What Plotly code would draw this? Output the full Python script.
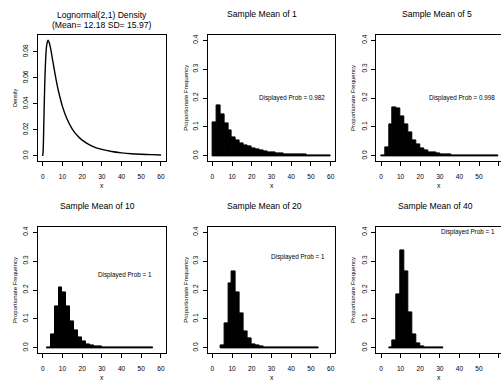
import plotly.graph_objects as go

W, H = 501, 384

# ---------------- data ----------------
density_x = [0, 0.25, 0.5, 1, 1.5, 2, 2.7, 3.5, 4, 5, 6, 7, 8, 10, 12, 15, 18, 20, 25, 30, 35, 40, 45, 50, 55, 60]
density_y = [0, 0.0052, 0.021, 0.054, 0.0745, 0.085, 0.089, 0.086, 0.0826, 0.0739, 0.0651, 0.0569, 0.0497,
             0.0381, 0.0296, 0.0207, 0.0149, 0.0122, 0.0076, 0.0050, 0.0034, 0.0024, 0.0017, 0.0013, 0.0010, 0.0007]

bin_width = 2
bin_centers = [1 + 2 * i for i in range(30)]  # bins 0-2, 2-4, ..., 58-60

mean1 = [0.116, 0.173, 0.143, 0.113, 0.088, 0.064, 0.055, 0.045, 0.038, 0.032, 0.027, 0.023, 0.019, 0.015, 0.013,
         0.011, 0.009, 0.008, 0.007, 0.006, 0.005, 0.005, 0.004, 0.004, 0.003, 0.003, 0.003, 0.002, 0.002, 0.002]
mean5 = [0.001, 0.029, 0.109, 0.168, 0.164, 0.137, 0.110, 0.080, 0.055, 0.039, 0.026, 0.018, 0.014, 0.011, 0.008,
         0.006, 0.005, 0.004, 0.003, 0.003, 0.002, 0.002, 0.002, 0.001, 0.001, 0.001, 0.001, 0.001, 0.001, 0.001]
mean10 = [None, 0.003, 0.048, 0.145, 0.210, 0.193, 0.145, 0.093, 0.062, 0.038, 0.022, 0.014, 0.009, 0.006, 0.004,
          0.003, 0.002, 0.002, 0.001, 0.001, 0.001, 0.001, 0.001, 0.001, 0.001, 0.001, 0.001, 0.001, None, None]
mean20 = [None, None, 0.008, 0.085, 0.222, 0.264, 0.193, 0.118, 0.058, 0.032, 0.014, 0.008, 0.005, 0.003, 0.002,
          0.001, 0.001, 0.001, 0.001, 0.001, 0.001, 0.001, 0.001, 0.001, 0.001, 0.001, 0.001, None, None, None]
mean40 = [None, None, 0.003, 0.026, 0.185, 0.335, 0.263, 0.124, 0.047, 0.015, 0.005, 0.002, 0.001, 0.001, 0.001,
          0.001, None, None, None, None, None, None, None, None, None, None, None, None, None, None]

hist_titles = ["Sample Mean of 1", "Sample Mean of 5", "Sample Mean of 10", "Sample Mean of 20", "Sample Mean of 40"]
hist_series = [mean1, mean5, mean10, mean20, mean40]
prob_labels = ["Displayed Prob = 0.982", "Displayed Prob = 0.998", "Displayed Prob = 1",
               "Displayed Prob = 1", "Displayed Prob = 1"]
prob_pos_x = [40.5, 41.5, 41.8, 43.6, 44.4]
prob_pos_y = [0.20, 0.20, 0.252, 0.315, 0.40]

x_ticks = [0, 10, 20, 30, 40, 50, 60]
x_ticktext = ["0", "10", "20", "30", "40", "50", "60"]
dens_ticks = [0, 0.02, 0.04, 0.06, 0.08]
dens_ticktext = ["0.0", "0.02", "0.04", "0.06", "0.08"]
freq_ticks = [0, 0.1, 0.2, 0.3, 0.4]
freq_ticktext = ["0.0", "0.1", "0.2", "0.3", "0.4"]

main_title = "Lognormal(2,1) Density"
main_sub = "(Mean= 12.18 SD= 15.97)"

# ---------------- layout geometry (pixels) ----------------
FONT = "Liberation Sans, Arial, Helvetica, sans-serif"
cols = [(38.0, 165.7), (207.6, 335.4), (376.3, 501.0)]
rows = [(35.4, 160.6), (227.4, 352.6)]
col_xranges = [[-2.4, 62.4], [-2.4, 62.4], [-2.4, 61.2]]


def px_x(p):
    return p / W


def px_y(p):
    return 1 - p / H


fig = go.Figure()
annotations = []

panels = [(0, 0), (0, 1), (0, 2), (1, 0), (1, 1), (1, 2)]
for k, (r, c) in enumerate(panels):
    idx = k + 1
    xa = "x" if idx == 1 else f"x{idx}"
    ya = "y" if idx == 1 else f"y{idx}"
    xname = "xaxis" if idx == 1 else f"xaxis{idx}"
    yname = "yaxis" if idx == 1 else f"yaxis{idx}"
    x0, x1 = cols[c]
    y0, y1 = rows[r]

    common = dict(showline=True, linecolor="black", linewidth=1.1, ticks="outside", ticklen=4,
                  tickwidth=1, tickcolor="black", showgrid=False, zeroline=False,
                  tickfont=dict(family=FONT, size=6.6, color="black"))
    fig.layout[xname] = dict(common, domain=[px_x(x0), px_x(x1)], anchor=ya, range=col_xranges[c],
                             tickvals=x_ticks, ticktext=x_ticktext, mirror=True, ticklabelstandoff=5)
    if k == 0:
        yr = [-0.00356, 0.0926]
        tv, tt = dens_ticks, dens_ticktext
    else:
        yr = [-0.016, 0.416]
        tv, tt = freq_ticks, freq_ticktext
    fig.layout[yname] = dict(common, domain=[px_y(y1), px_y(y0)], anchor=xa, range=yr,
                             tickvals=tv, ticktext=tt, tickangle=-90, mirror=(c != 2), ticklabelstandoff=2)

    cx = (x0 + x1) / 2
    cy = (y0 + y1) / 2
    # x axis title
    annotations.append(dict(text="x", x=px_x(cx), y=px_y(y1 + 25), xref="paper", yref="paper",
                            showarrow=False, xanchor="center", yanchor="middle",
                            font=dict(family=FONT, size=6.8, color="black")))
    if k == 0:
        fig.add_trace(go.Scatter(x=density_x, y=density_y, mode="lines", xaxis=xa, yaxis=ya,
                                 line=dict(color="black", width=1.4, shape="spline", smoothing=0.8),
                                 showlegend=False, hoverinfo="skip"))
        annotations.append(dict(text=main_title, x=px_x(101.5), y=px_y(15), xref="paper", yref="paper",
                                showarrow=False, xanchor="center", yanchor="middle",
                                font=dict(family=FONT, size=8.6, color="black")))
        annotations.append(dict(text=main_sub, x=px_x(101.5), y=px_y(25), xref="paper", yref="paper",
                                showarrow=False, xanchor="center", yanchor="middle",
                                font=dict(family=FONT, size=8.6, color="black")))
        annotations.append(dict(text="Density", x=px_x(15), y=px_y(cy), xref="paper", yref="paper",
                                showarrow=False, xanchor="center", yanchor="middle", textangle=-90,
                                font=dict(family=FONT, size=5.5, color="black")))
    else:
        j = k - 1
        fig.add_trace(go.Bar(x=bin_centers, y=hist_series[j], width=bin_width, xaxis=xa, yaxis=ya,
                             marker=dict(color="black", line=dict(color="black", width=1)),
                             showlegend=False, hoverinfo="skip"))
        title_cx = [101.5, 262.0, 437.0][c] if r == 0 else [97.0, 264.7, 435.7][c]
        annotations.append(dict(text=hist_titles[j], x=px_x(title_cx), y=px_y(y0 - 21), xref="paper",
                                yref="paper", showarrow=False, xanchor="center", yanchor="middle",
                                font=dict(family=FONT, size=8.6, color="black")))
        ytx = [15.0, 185.7, 353.0][c]
        annotations.append(dict(text="Proportionate Frequency", x=px_x(ytx), y=px_y(cy), xref="paper",
                                yref="paper", showarrow=False, xanchor="center", yanchor="middle",
                                textangle=-90, font=dict(family=FONT, size=6.0, color="black")))
        annotations.append(dict(text=prob_labels[j], x=prob_pos_x[j], y=prob_pos_y[j], xref=xa, yref=ya,
                                showarrow=False, xanchor="center", yanchor="middle",
                                font=dict(family=FONT, size=6.3, color="black")))

fig.update_layout(width=W, height=H, margin=dict(l=0, r=0, t=0, b=0), paper_bgcolor="white",
                  plot_bgcolor="white", bargap=0, annotations=annotations, showlegend=False)

fig.write_html("out.html")
